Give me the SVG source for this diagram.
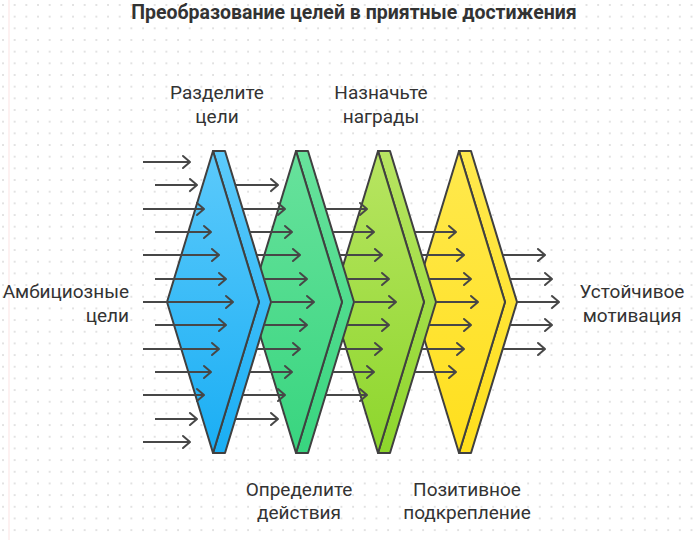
<svg xmlns="http://www.w3.org/2000/svg" width="700" height="540" viewBox="0 0 700 540">
  <defs>
    <pattern id="dots" x="2" y="4" width="11.67" height="11.67" patternUnits="userSpaceOnUse">
      <circle cx="1" cy="1" r="0.9" fill="#d6d6d6"/>
    </pattern>
    <linearGradient id="gBlue" x1="0" y1="0" x2="0" y2="1">
      <stop offset="0" stop-color="#5ccafb"/>
      <stop offset="1" stop-color="#1aaef4"/>
    </linearGradient>
    <linearGradient id="gGreen" x1="0" y1="0" x2="0" y2="1">
      <stop offset="0" stop-color="#68e29c"/>
      <stop offset="1" stop-color="#38d57f"/>
    </linearGradient>
    <linearGradient id="gLime" x1="0" y1="0" x2="0" y2="1">
      <stop offset="0" stop-color="#b8e562"/>
      <stop offset="1" stop-color="#8dd62c"/>
    </linearGradient>
    <linearGradient id="gYellow" x1="0" y1="0" x2="0" y2="1">
      <stop offset="0" stop-color="#ffe94e"/>
      <stop offset="1" stop-color="#ffdf1c"/>
    </linearGradient>
    <marker id="ah" viewBox="-10 -8 12 16" refX="0" refY="0" markerWidth="12" markerHeight="16" markerUnits="userSpaceOnUse" orient="auto">
      <path d="M-7,-6 L0,0 L-7,6" fill="none" stroke="#474747" stroke-width="2" stroke-linecap="round" stroke-linejoin="round"/>
    </marker>
    <style>
      .shape { stroke: #404040; stroke-width: 2; stroke-linejoin: round; }
      .arr { fill: none; stroke: #474747; stroke-width: 2; marker-end: url(#ah); }
      .lbl { font-family: Roboto, "Liberation Sans", sans-serif; font-size: 19px; fill: #333333; }
      .title { font-family: Roboto, "Liberation Sans", sans-serif; font-size: 19.5px; font-weight: bold; fill: #333333; }
    </style>
  </defs>

  <rect width="700" height="540" fill="#ffffff"/>
  <rect width="700" height="540" fill="url(#dots)"/>
  <line x1="9" y1="0" x2="9" y2="540" stroke="#fbe3e3" stroke-width="1"/>

  <text class="title" x="354" y="19" text-anchor="middle">Преобразование целей в приятные достижения</text>

  <g id="stage-4">
    <polygon class="shape" fill="url(#gYellow)" points="459,151 471,151 517,302 471,453 459,453 505,302"/>
    <polygon class="shape" fill="url(#gYellow)" points="459,151 505,302 459,453 413,302"/>
  </g>
  <g id="stage-3">
    <polygon class="shape" fill="url(#gLime)" points="378,151 390,151 436,302 390,453 378,453 424,302"/>
    <polygon class="shape" fill="url(#gLime)" points="378,151 424,302 378,453 332,302"/>
  </g>
  <g id="stage-2">
    <polygon class="shape" fill="url(#gGreen)" points="296,151 308,151 354,302 308,453 296,453 342,302"/>
    <polygon class="shape" fill="url(#gGreen)" points="296,151 342,302 296,453 250,302"/>
  </g>
  <g id="stage-1">
    <polygon class="shape" fill="url(#gBlue)" points="213,151 225,151 271,302 225,453 213,453 259,302"/>
    <polygon class="shape" fill="url(#gBlue)" points="213,151 259,302 213,453 167,302"/>
  </g>

  <g id="connectors">
    <!-- into stage 1 -->
    <path class="arr" d="M143,162H190"/>
    <path class="arr" d="M155,185H197"/>
    <path class="arr" d="M143,209H204"/>
    <path class="arr" d="M155,232H211"/>
    <path class="arr" d="M143,255H219"/>
    <path class="arr" d="M155,279H226"/>
    <path class="arr" d="M143,302H233"/>
    <path class="arr" d="M155,325H226"/>
    <path class="arr" d="M143,349H219"/>
    <path class="arr" d="M155,372H211"/>
    <path class="arr" d="M143,395H204"/>
    <path class="arr" d="M155,419H197"/>
    <path class="arr" d="M143,442H190"/>
    <!-- stage 1 to stage 2 -->
    <path class="arr" d="M235.5,185H278"/>
    <path class="arr" d="M242.6,209H285"/>
    <path class="arr" d="M249.7,232H292"/>
    <path class="arr" d="M256.8,255H300"/>
    <path class="arr" d="M263.9,279H307"/>
    <path class="arr" d="M271,302H314"/>
    <path class="arr" d="M263.9,325H307"/>
    <path class="arr" d="M256.8,349H300"/>
    <path class="arr" d="M249.7,372H292"/>
    <path class="arr" d="M242.6,395H285"/>
    <path class="arr" d="M235.5,419H278"/>
    <!-- stage 2 to stage 3 -->
    <path class="arr" d="M325.6,209H367"/>
    <path class="arr" d="M332.7,232H374"/>
    <path class="arr" d="M339.8,255H382"/>
    <path class="arr" d="M346.9,279H389"/>
    <path class="arr" d="M354,302H396"/>
    <path class="arr" d="M346.9,325H389"/>
    <path class="arr" d="M339.8,349H382"/>
    <path class="arr" d="M332.7,372H374"/>
    <path class="arr" d="M325.6,395H367"/>
    <!-- stage 3 to stage 4 -->
    <path class="arr" d="M414.7,232H456"/>
    <path class="arr" d="M421.8,255H464"/>
    <path class="arr" d="M428.9,279H471"/>
    <path class="arr" d="M436,302H478"/>
    <path class="arr" d="M428.9,325H471"/>
    <path class="arr" d="M421.8,349H464"/>
    <path class="arr" d="M414.7,372H456"/>
    <!-- out of stage 4 -->
    <path class="arr" d="M502.8,255H545"/>
    <path class="arr" d="M509.9,279H552"/>
    <path class="arr" d="M517,302H559"/>
    <path class="arr" d="M509.9,325H552"/>
    <path class="arr" d="M502.8,349H545"/>
  </g>

  <g id="label-start">
    <text class="lbl" x="129" y="298" text-anchor="end">Амбициозные</text>
    <text class="lbl" x="129" y="322" text-anchor="end">цели</text>
  </g>
  <g id="label-split">
    <text class="lbl" x="217" y="99" text-anchor="middle">Разделите</text>
    <text class="lbl" x="217" y="123" text-anchor="middle">цели</text>
  </g>
  <g id="label-define">
    <text class="lbl" x="299" y="496" text-anchor="middle">Определите</text>
    <text class="lbl" x="299" y="519" text-anchor="middle">действия</text>
  </g>
  <g id="label-reward">
    <text class="lbl" x="381" y="99" text-anchor="middle">Назначьте</text>
    <text class="lbl" x="381" y="123" text-anchor="middle">награды</text>
  </g>
  <g id="label-reinforce">
    <text class="lbl" x="467" y="496" text-anchor="middle">Позитивное</text>
    <text class="lbl" x="467" y="519" text-anchor="middle">подкрепление</text>
  </g>
  <g id="label-end">
    <text class="lbl" x="632" y="298" text-anchor="middle">Устойчивое</text>
    <text class="lbl" x="632" y="322" text-anchor="middle">мотивация</text>
  </g>
</svg>
